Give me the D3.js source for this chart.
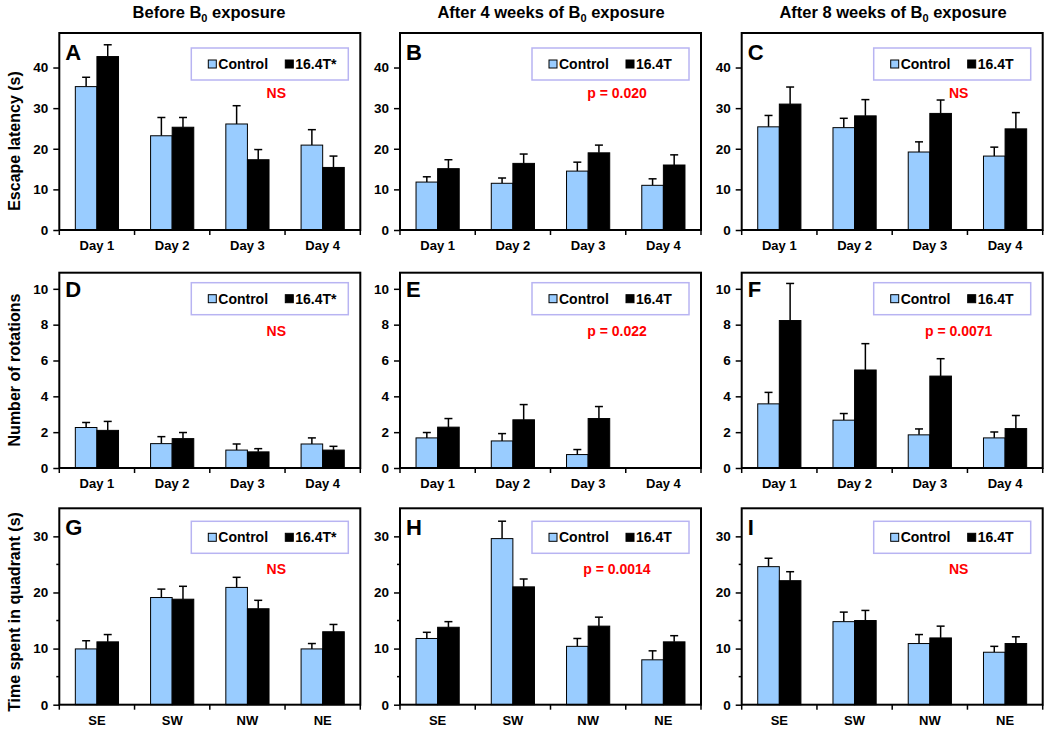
<!DOCTYPE html>
<html>
<head>
<meta charset="utf-8">
<script src="https://cdn.jsdelivr.net/npm/d3@7"></script>
<style>
  html, body { margin: 0; padding: 0; background: #fff; }
  svg { display: block; font-family: Arial, "Liberation Sans", sans-serif; font-weight: bold; }
</style>
</head>
<body>
<svg id="chart" width="1050" height="733"></svg>
<script>
// ---------- Data ----------
const days = ["Day 1", "Day 2", "Day 3", "Day 4"];
const quadrants = ["SE", "SW", "NW", "NE"];
const columnTitles = ["Before B", "After 4 weeks of B", "After 8 weeks of B"];
const rowTitles = ["Escape latency (s)", "Number of rotations", "Time spent in quadrant (s)"];
const panelLetters = ["A", "B", "C", "D", "E", "F", "G", "H", "I"];
const legendTreated = ["16.4T*", "16.4T", "16.4T"];
const annotations = ["NS", "p = 0.020", "NS", "NS", "p = 0.022", "p = 0.0071", "NS", "p = 0.0014", "NS"];
const yMax = [48.5, 10.9, 35];
const yTicks = [[0, 10, 20, 30, 40], [0, 2, 4, 6, 8, 10], [0, 10, 20, 30]];
const yMinorTicks = [[], [], [5, 15, 25]];

// Escape latency (s)
const latBeforeCtrl = [35.3, 23.2, 26.1, 20.9], latBeforeCtrlErr = [2.3, 4.5, 4.5, 3.8];
const latBeforeT    = [42.7, 25.3, 17.3, 15.4], latBeforeTErr    = [2.9, 2.4, 2.5, 2.8];
const lat4wCtrl     = [11.8, 11.5, 14.5, 11.0], lat4wCtrlErr     = [1.3, 1.3, 2.2, 1.6];
const lat4wT        = [15.1, 16.4, 19.0, 16.0], lat4wTErr        = [2.2, 2.3, 1.9, 2.5];
const lat8wCtrl     = [25.4, 25.2, 19.2, 18.2], lat8wCtrlErr     = [2.8, 2.3, 2.5, 2.2];
const lat8wT        = [31.0, 28.1, 28.7, 24.9], lat8wTErr        = [4.2, 4.0, 3.3, 4.0];
// Number of rotations
const rotBeforeCtrl = [2.26, 1.36, 1.0, 1.34], rotBeforeCtrlErr = [0.28, 0.39, 0.34, 0.34];
const rotBeforeT    = [2.1, 1.64, 0.9, 1.0],   rotBeforeTErr    = [0.5, 0.34, 0.18, 0.21];
const rot4wCtrl     = [1.68, 1.51, 0.75, null], rot4wCtrlErr    = [0.3, 0.41, 0.28, null];
const rot4wT        = [2.28, 2.69, 2.76, null], rot4wTErr       = [0.48, 0.85, 0.67, null];
const rot8wCtrl     = [3.58, 2.67, 1.85, 1.68], rot8wCtrlErr    = [0.64, 0.37, 0.33, 0.33];
const rot8wT        = [8.23, 5.47, 5.13, 2.2],  rot8wTErr       = [2.07, 1.47, 0.97, 0.73];
// Time spent in quadrant (s)
const quadBeforeCtrl = [9.94, 19.1, 20.9, 9.94], quadBeforeCtrlErr = [1.46, 1.5, 1.8, 0.96];
const quadBeforeT    = [11.2, 18.8, 17.1, 13.0], quadBeforeTErr    = [1.3, 2.3, 1.5, 1.3];
const quad4wCtrl     = [11.8, 29.6, 10.4, 8.0],  quad4wCtrlErr     = [1.1, 3.1, 1.4, 1.6];
const quad4wT        = [13.8, 21.0, 14.0, 11.2], quad4wTErr        = [1.0, 1.4, 1.6, 1.1];
const quad8wCtrl     = [24.6, 14.8, 10.9, 9.35], quad8wCtrlErr     = [1.5, 1.7, 1.6, 1.05];
const quad8wT        = [22.1, 15.0, 11.9, 10.9], quad8wTErr        = [1.6, 1.8, 2.1, 1.2];

const panelData = [
  [days, latBeforeCtrl, latBeforeCtrlErr, latBeforeT, latBeforeTErr],
  [days, lat4wCtrl, lat4wCtrlErr, lat4wT, lat4wTErr],
  [days, lat8wCtrl, lat8wCtrlErr, lat8wT, lat8wTErr],
  [days, rotBeforeCtrl, rotBeforeCtrlErr, rotBeforeT, rotBeforeTErr],
  [days, rot4wCtrl, rot4wCtrlErr, rot4wT, rot4wTErr],
  [days, rot8wCtrl, rot8wCtrlErr, rot8wT, rot8wTErr],
  [quadrants, quadBeforeCtrl, quadBeforeCtrlErr, quadBeforeT, quadBeforeTErr],
  [quadrants, quad4wCtrl, quad4wCtrlErr, quad4wT, quad4wTErr],
  [quadrants, quad8wCtrl, quad8wCtrlErr, quad8wT, quad8wTErr]
];

// ---------- Layout ----------
const colLeft = [59.3, 400, 741.7];
const colWidth = 301;
const rowTop = [33, 272.7, 508.3];
const rowBottom = [230, 468, 704.7];
const letterDy = [27, 24, 27];
const legendDy = [15, 10, 13];
const annotDy = [60, 58, 61];
const rowTitleY = [141, 370, 612];
const colTitleX = [209, 551, 893];

const ctrlColor = "#99CCFF";
const svg = d3.select("#chart");

// Column titles with subscript 0
columnTitles.forEach((t, i) => {
  const txt = svg.append("text").attr("x", colTitleX[i]).attr("y", 18)
    .attr("text-anchor", "middle").attr("font-size", 16.5).attr("fill", "#000");
  txt.append("tspan").text(t);
  txt.append("tspan").attr("dy", 4).attr("font-size", 11).text("0");
  txt.append("tspan").attr("dy", -4).text(" exposure");
});

// Row titles
rowTitles.forEach((t, r) => {
  svg.append("text")
    .attr("transform", `translate(20,${rowTitleY[r]}) rotate(-90)`)
    .attr("text-anchor", "middle").attr("font-size", 16).attr("fill", "#000")
    .text(t);
});

panelData.forEach((pd, idx) => {
  const r = Math.floor(idx / 3), c = idx % 3;
  const [cats, ctrl, ctrlErr, trt, trtErr] = pd;
  const left = colLeft[c], top = rowTop[r], bottom = rowBottom[r];
  const g = svg.append("g");

  const x = d3.scaleBand().domain(cats).range([left, left + colWidth]).paddingInner(0).paddingOuter(0);
  const y = d3.scaleLinear().domain([0, yMax[r]]).range([bottom, top]);
  const bw = x.bandwidth() * 0.287;

  // Bars
  const rows = cats.map((cat, i) => ({ cat, c: ctrl[i], ce: ctrlErr[i], t: trt[i], te: trtErr[i] }));
  const series = [
    { key: "c", err: "ce", fill: ctrlColor, off: -1 },
    { key: "t", err: "te", fill: "#000", off: 0 }
  ];
  series.forEach(s => {
    const valid = rows.filter(d => d[s.key] != null);
    const bx = d => x(d.cat) + x.bandwidth() / 2 + s.off * bw;
    // error bars (upward only)
    g.selectAll(null).data(valid).enter().append("line")
      .attr("x1", d => bx(d) + bw / 2).attr("x2", d => bx(d) + bw / 2)
      .attr("y1", d => y(d[s.key])).attr("y2", d => y(d[s.key] + d[s.err]))
      .attr("stroke", "#000").attr("stroke-width", 1.5);
    g.selectAll(null).data(valid).enter().append("line")
      .attr("x1", d => bx(d) + bw / 2 - 4).attr("x2", d => bx(d) + bw / 2 + 4)
      .attr("y1", d => y(d[s.key] + d[s.err])).attr("y2", d => y(d[s.key] + d[s.err]))
      .attr("stroke", "#000").attr("stroke-width", 1.5);
    g.selectAll(null).data(valid).enter().append("rect")
      .attr("x", bx).attr("width", bw)
      .attr("y", d => y(d[s.key])).attr("height", d => y(0) - y(d[s.key]))
      .attr("fill", s.fill).attr("stroke", "#000").attr("stroke-width", 1);
  });

  // Frame
  g.append("rect").attr("x", left).attr("y", top).attr("width", colWidth).attr("height", bottom - top)
    .attr("fill", "none").attr("stroke", "#000").attr("stroke-width", 2);

  // Y axis
  const ya = g.append("g").attr("transform", `translate(${left},0)`)
    .call(d3.axisLeft(y).tickValues(yTicks[r]).tickSize(6).tickPadding(5).tickFormat(d3.format("d")));
  ya.select(".domain").remove();
  ya.selectAll(".tick line").attr("stroke", "#000").attr("stroke-width", 1.5);
  ya.selectAll(".tick text").attr("font-size", 13.5).attr("font-family", "Arial, 'Liberation Sans', sans-serif")
    .attr("font-weight", "bold").attr("fill", "#000");
  if (yMinorTicks[r].length) {
    g.selectAll(null).data(yMinorTicks[r]).enter().append("line")
      .attr("x1", left - 3).attr("x2", left).attr("y1", d => y(d)).attr("y2", d => y(d))
      .attr("stroke", "#000").attr("stroke-width", 1.5);
  }

  // X axis: labels centered, ticks at band boundaries
  const xa = g.append("g").attr("transform", `translate(0,${bottom})`)
    .call(d3.axisBottom(x).tickSize(0).tickPadding(11));
  xa.select(".domain").remove();
  xa.selectAll(".tick text").attr("font-size", 13).attr("font-family", "Arial, 'Liberation Sans', sans-serif")
    .attr("font-weight", "bold").attr("fill", "#000");
  const bounds = cats.map(cat => x(cat)).concat([x(cats[cats.length - 1]) + x.bandwidth()]);
  g.selectAll(null).data(bounds).enter().append("line")
    .attr("x1", d => d).attr("x2", d => d).attr("y1", bottom).attr("y2", bottom + 5)
    .attr("stroke", "#000").attr("stroke-width", 1.5);

  // Panel letter
  g.append("text").attr("x", left + 6).attr("y", top + letterDy[r])
    .attr("font-size", 22).attr("fill", "#000").text(panelLetters[idx]);

  // Legend
  const lw = 157, lh = 32;
  const lx = left + colWidth - 12 - lw, ly = top + legendDy[r];
  g.append("rect").attr("x", lx).attr("y", ly).attr("width", lw).attr("height", lh)
    .attr("fill", "#fff").attr("stroke", "#B8B4F2").attr("stroke-width", 1.5);
  const legItems = [
    { label: "Control", fill: ctrlColor, dx: 17 },
    { label: legendTreated[c], fill: "#000", dx: 94 }
  ];
  legItems.forEach(it => {
    g.append("rect").attr("x", lx + it.dx).attr("y", ly + lh / 2 - 4).attr("width", 8).attr("height", 8)
      .attr("fill", it.fill).attr("stroke", "#000").attr("stroke-width", 1);
    g.append("text").attr("x", lx + it.dx + 10).attr("y", ly + lh / 2)
      .attr("dominant-baseline", "central").attr("font-size", 14).attr("fill", "#000").text(it.label);
  });

  // Annotation
  g.append("text").attr("x", left + 217).attr("y", top + annotDy[r])
    .attr("text-anchor", "middle").attr("dominant-baseline", "central")
    .attr("font-size", 14).attr("fill", "#FF0000").text(annotations[idx]);
});
</script>
</body>
</html>
